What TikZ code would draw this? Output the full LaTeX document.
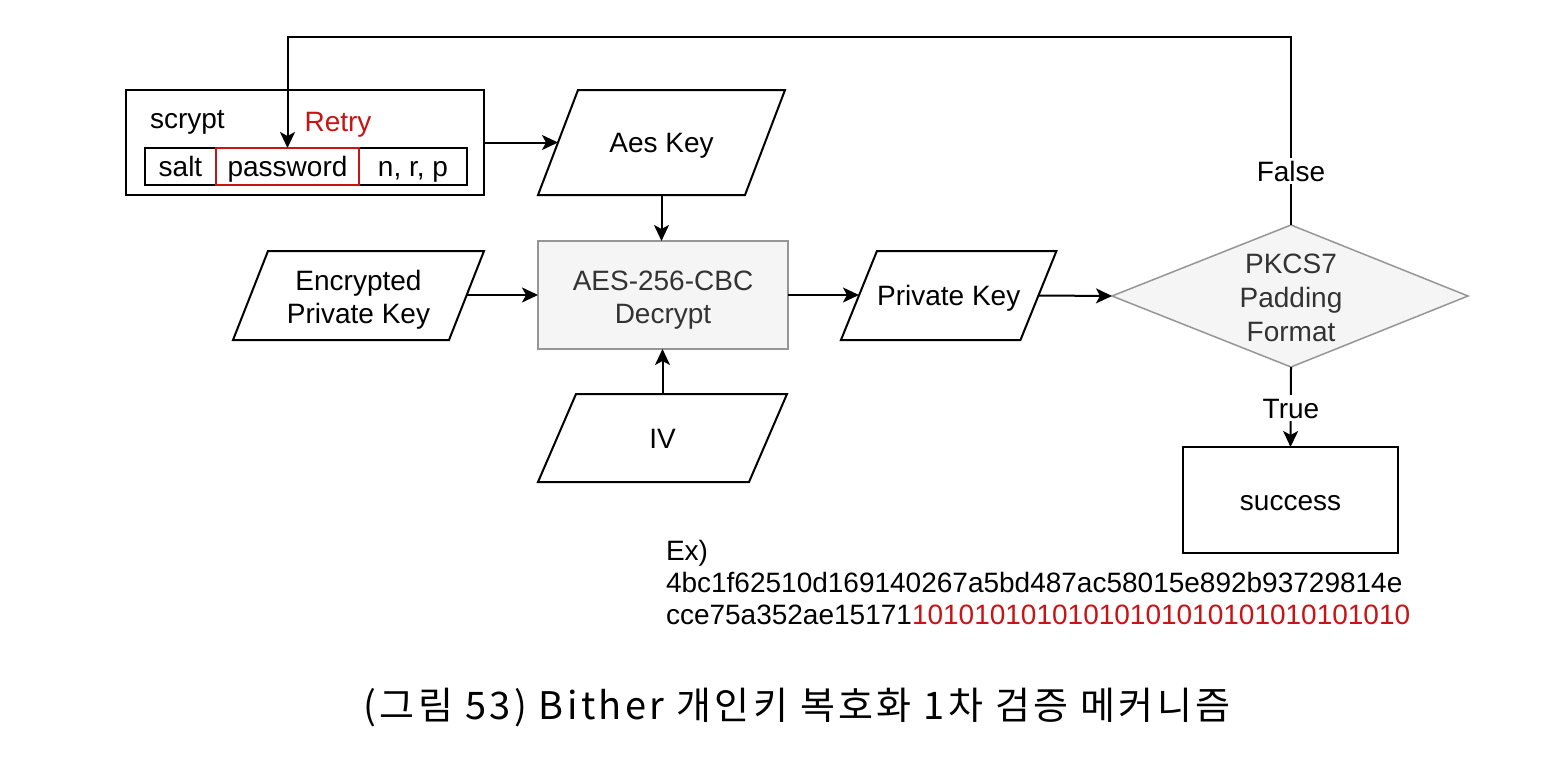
\documentclass[tikz,border=0pt]{standalone}
\usepackage{fontspec}
\setmainfont{Liberation Sans}
\newfontfamily\cjkfont[LetterSpace=9]{Noto Sans CJK KR}
\usetikzlibrary{arrows.meta,calc}
\definecolor{retryred}{RGB}{200,20,20}
\definecolor{boxgray}{RGB}{150,150,150}
\definecolor{boxfill}{RGB}{245,245,245}
\definecolor{txtgray}{RGB}{51,51,51}
\newcommand\pgramdraw[2]{\draw[pline] ([xshift=-#2]#1.south west) -- ([xshift=#2]#1.north west) -- ([xshift=#2]#1.north east) -- ([xshift=-#2]#1.south east) -- cycle;}
\begin{document}
\begin{tikzpicture}[x=1pt,y=-1pt,
 every node/.style={font=\fontsize{28}{33}\selectfont, inner sep=0pt, outer sep=0pt},
 sl/.style={text height=20pt, text depth=0pt},
 conn/.style={line width=2pt, -{Stealth[length=16pt,width=15pt,inset=4pt]}},
 pgram/.style={rectangle, align=center},
 pline/.style={line width=2pt, line join=miter},
 graybox/.style={draw=boxgray, fill=boxfill, line width=1.5pt, text=txtgray, align=center},
 cell/.style={draw, line width=1.5pt, minimum height=37pt, sl},
 lbl/.style={fill=white, inner sep=3pt, sl}]
\useasboundingbox (0,0) rectangle (1561,763);
\fill[white] (0,0) rectangle (1561,763);

% scrypt group
\node[draw, line width=2pt, minimum width=358pt, minimum height=105pt] (scrypt) at (305,142.5) {};
\node[anchor=west, sl] (scrtxt) at (150,118) {scrypt};
\node[text=retryred, sl] (retry) at (338,121) {Retry};
\node[cell, minimum width=71pt] (salt) at (180.5,166.5) {salt};
\node[cell, minimum width=108pt] (nrp) at (413,166.5) {n, r, p};
\node[cell, draw=retryred, minimum width=143pt] (pw) at (287.5,166.5) {password};

% parallelograms
\node[pgram, sl, minimum width=207pt, minimum height=105pt] (aeskey) at (661.5,142.5) {Aes Key};
\pgramdraw{aeskey}{20pt}
\node[pgram, minimum width=216pt, minimum height=89pt] (epk) at (358.5,295.5) {};
\pgramdraw{epk}{17.5pt}
\node[align=center] (epktext) at (358.5,299.5) {Encrypted\\Private Key};
\node[pgram, sl, minimum width=211pt, minimum height=88pt] (iv) at (662.5,438) {IV};
\pgramdraw{iv}{19pt}
\node[pgram, sl, minimum width=179.5pt, minimum height=89pt] (pk) at (948.7,295.5) {Private Key};
\pgramdraw{pk}{18pt}

% AES box
\node[graybox, minimum width=250pt, minimum height=108pt] (aesbox) at (663,295) {};
\node[text=txtgray, align=center] (aestext) at (663,300) {AES-256-CBC\\Decrypt};

% diamond
\coordinate (dl) at (1112,296);
\coordinate (dt) at (1291,225);
\coordinate (dr) at (1468,296);
\coordinate (db) at (1291,367);
\draw[draw=boxgray, fill=boxfill, line width=1.5pt] (dl) -- (dt) -- (dr) -- (db) -- cycle;
\node[text=txtgray, align=center, font=\fontsize{28}{34}\selectfont] (dtext) at (1291,298) {PKCS7\\Padding\\Format};

% success
\node[draw, line width=2pt, sl, minimum width=215pt, minimum height=106pt] (succ) at (1290.5,500) {success};

% connectors
\draw[conn] (scrypt.east) -- (aeskey.west);
\draw[conn] (aeskey.south) -- (aeskey.south |- aesbox.north);
\draw[conn] (epk.east |- aesbox.west) -- (aesbox.west);
\draw[conn] (iv.north) -- (iv.north |- aesbox.south);
\draw[conn] (aesbox.east) -- (aesbox.east -| pk.west);
\draw[conn] (pk.east) -- (dl);
\coordinate (loopR) at (1291,37);
\coordinate (loopL) at (287.5,37);
\draw[conn] (dt) -- (loopR) -- (loopL) -- (pw.north);
\node[lbl] (false) at (1291,171) {False};
\draw[conn] (db) -- (succ.north);
\node[lbl] (true) at (1291,408) {True};

% example text
\node[anchor=base west] (ex1) at (666,560) {Ex)};
\node[anchor=base west] (ex2) at (666,592) {4bc1f62510d169140267a5bd487ac58015e892b93729814e};
\node[anchor=base west] (ex3) at (666,624) {cce75a352ae15171\textcolor{retryred}{10101010101010101010101010101010}};

% caption
\node[font=\cjkfont\fontsize{38}{42}\selectfont] (cap) at (797,708) {(그림 53) Bither 개인키 복호화 1차 검증 메커니즘};
\end{tikzpicture}
\end{document}
